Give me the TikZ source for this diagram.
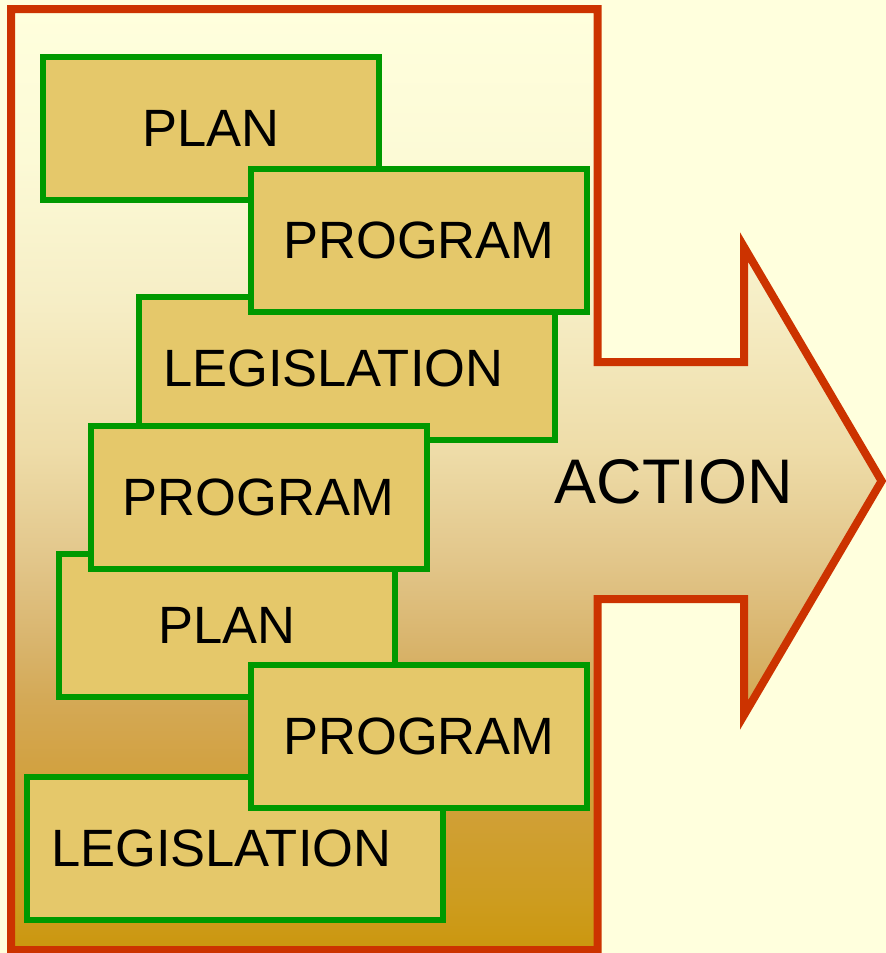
\documentclass[tikz,border=0pt]{standalone}
\usepackage{fontspec}
\setmainfont{Liberation Sans}
\usetikzlibrary{positioning}

\definecolor{bgyellow}{HTML}{FFFFDD}
\definecolor{framered}{HTML}{CC3300}
\definecolor{boxgreen}{HTML}{009900}
\definecolor{boxgold}{HTML}{E5C86A}

\pgfdeclareverticalshading{goldfade}{100bp}{%
  rgb(0bp)=(0.796,0.592,0.055);
  rgb(25bp)=(0.796,0.592,0.055);
  rgb(27.65bp)=(0.804,0.612,0.122);
  rgb(35bp)=(0.824,0.635,0.263);
  rgb(38.3bp)=(0.831,0.663,0.337);
  rgb(41.5bp)=(0.851,0.710,0.431);
  rgb(45.7bp)=(0.886,0.776,0.541);
  rgb(51.5bp)=(0.933,0.863,0.659);
  rgb(59.5bp)=(0.965,0.933,0.776);
  rgb(67bp)=(0.988,0.980,0.839);
  rgb(75bp)=(1,1,0.867);
  rgb(100bp)=(1,1,0.867)}

\begin{document}
\begin{tikzpicture}[x=1pt,y=-1pt,on grid,
  box/.style={draw=boxgreen,fill=boxgold,line width=6pt,inner sep=0pt,minimum width=336pt,minimum height=143pt,font=\fontsize{52.5}{60}\selectfont},
  longbox/.style={box,minimum width=416pt,text width=368pt,align=left},
  frame/.style={draw=framered,line width=8pt,shading=goldfade}]

                \useasboundingbox (0,0) rectangle (886,953);
                \fill[bgyellow] (0,0) rectangle (886,953);

                \shadedraw[frame] (11,9) -- (597.5,9) -- (597.5,362) -- (744,362) -- (744,247)
                  -- (881.6,481) -- (744,715) -- (744,599) -- (597.5,599) -- (597.5,950) -- (11,950) -- cycle;

                \node[box]      (plan1) at (211,128.5) {PLAN};
                \node[longbox]  (leg1)  [below right=240.25pt and 136pt of plan1] {LEGISLATION};
                \node[box]      (prog1) [below right=112pt and 208pt of plan1] {PROGRAM};
                \node[box]      (plan2) [below left=256.25pt and 120pt of leg1] {PLAN};
                \node[box]      (prog2) [below left=128.25pt and 88.5pt of leg1] {PROGRAM};
                \node[longbox]  (leg2)  [below right=223.5pt and 8pt of plan2] {LEGISLATION};
                \node[box]      (prog3) [below right=111.5pt and 192pt of plan2] {PROGRAM};

                \node[font=\fontsize{63}{70}\selectfont] (action) at (673.5,481.5) {ACTION};

                ;
            \end{tikzpicture}
\end{document}
